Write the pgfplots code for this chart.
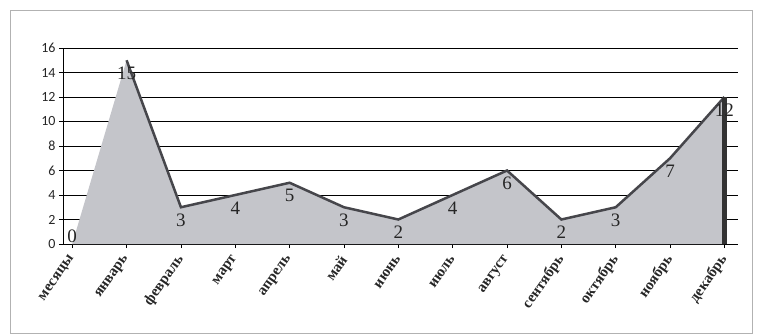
\documentclass[border=0pt]{standalone}
\usepackage{pgfplots}
\pgfplotsset{compat=1.18}
\usepackage{fontspec}
\setmainfont{Liberation Serif}
\newfontfamily\tickfont{Carlito}
\definecolor{areafill}{RGB}{196,197,202}
\definecolor{ridge}{RGB}{70,70,75}
\begin{document}
\begin{tikzpicture}[x=1pt,y=1pt]
\useasboundingbox (-63,-91) rectangle (695,244);
\draw[gray!60, line width=0.8pt] (-53,-89) rectangle (689,234);
\begin{axis}[at={(0,0)}, anchor=south west,
  width=675pt, height=196pt, scale only axis,
  xmin=-0.17, xmax=12.25, ymin=0, ymax=16,
  axis lines*=left, axis line style={-, black, line width=0.8pt},
  ytick={0,2,...,16},
  /pgf/number format/assume math mode=true,
  yticklabel style={font=\tickfont\fontsize{14}{14}\selectfont, text=black!85},
  xtick={0,...,12},
  xticklabels={месяцы,январь,февраль,март,апрель,май,июнь,июль,август,сентябрь,октябрь,ноябрь,декабрь},
  xticklabel style={rotate=55, anchor=east, font=\bfseries\fontsize{15}{15}\selectfont, yshift=-5pt, xshift=-4pt, text=black!85},
  tick align=outside, major tick length=4pt,
  tick style={black, line width=0.8pt},
  ymajorgrids, grid style={black, line width=0.8pt},
  clip=false,
]
\addplot[fill=areafill, draw=none] coordinates {(0,0) (1,15) (2,3) (3,4) (4,5) (5,3) (6,2) (7,4) (8,6) (9,2) (10,3) (11,7) (12,12)} \closedcycle;
\addplot[draw=ridge, line width=2.5pt] coordinates {(1,15) (2,3) (3,4) (4,5) (5,3) (6,2) (7,4) (8,6) (9,2) (10,3) (11,7) (12,12)};
\addplot[draw=black!80, line width=5pt] coordinates {(12,0) (12,12)};
\addplot[draw=none, nodes near coords, every node near coord/.style={anchor=north, yshift=-3pt, font=\fontsize{19}{19}\selectfont, text=black!85}] coordinates {(1,15) (2,3) (3,4) (4,5) (5,3) (6,2) (7,4) (8,6) (9,2) (10,3) (11,7) (12,12)};
\addplot[draw=none, nodes near coords, every node near coord/.style={anchor=south, yshift=-2pt, font=\fontsize{19}{19}\selectfont, text=black!85}] coordinates {(0,0)};
\end{axis}
\end{tikzpicture}
\end{document}
